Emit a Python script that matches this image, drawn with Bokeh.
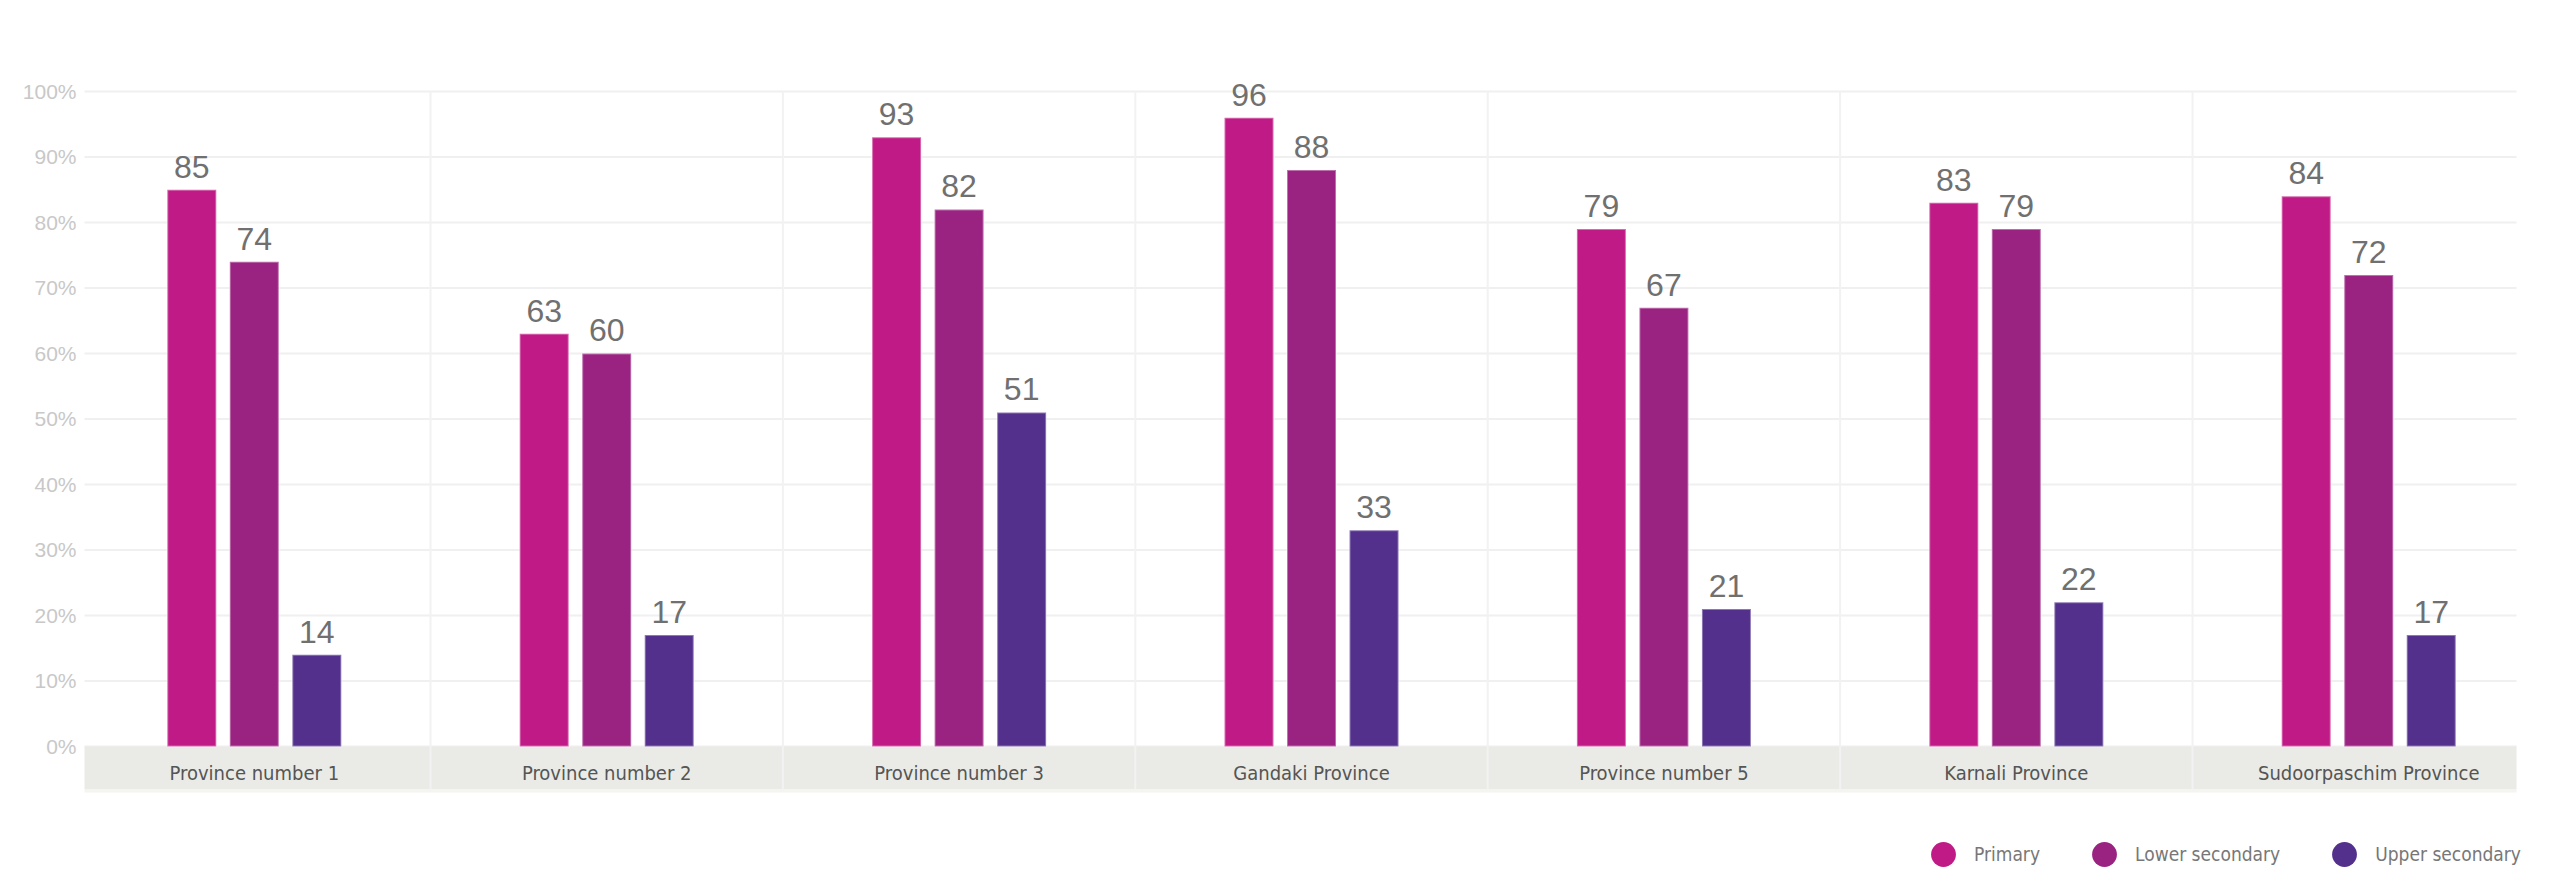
import numpy as np
from bokeh.plotting import figure
from bokeh.models import ColumnDataSource, Range1d, Legend, LegendItem
from bokeh.transform import dodge
from bokeh.core.properties import value
from bokeh.embed import file_html
from bokeh.resources import INLINE

# ---------------- data ----------------
provinces = ["Province number 1", "Province number 2", "Province number 3",
             "Gandaki Province", "Province number 5", "Karnali Province",
             "Sudoorpaschim Province"]
primary = [85, 63, 93, 96, 79, 83, 84]
lower_secondary = [74, 60, 82, 88, 67, 79, 72]
upper_secondary = [14, 17, 51, 33, 21, 22, 17]
series_names = ["Primary", "Lower secondary", "Upper secondary"]
series_colors = ["#c01a86", "#9a2382", "#52308c"]
y_ticks = list(range(0, 101, 10))
y_tick_labels = [f"{t}%" for t in y_ticks]

# ---------------- styling / layout ----------------
NARROW = "Liberation Sans Narrow, DejaVu Sans Condensed, sans-serif"
SANS = "Liberation Sans, Arial, sans-serif"

n = len(provinces)
# full-canvas frame; data extents of the plotting area
X0, X1 = -0.2202, 7.0073
Y0, Y1 = -20.31, 113.89
XL, XR = 0.0182, 6.9194      # plot area left / right
YB = -6.565                  # bottom of category band
OFF = 0.1774
BW = 0.139

src = ColumnDataSource(dict(
    x=[i + 0.5 for i in range(n)],
    province=provinces,
    primary=primary,
    lower=lower_secondary,
    upper=upper_secondary,
    primary_txt=[str(v) for v in primary],
    lower_txt=[str(v) for v in lower_secondary],
    upper_txt=[str(v) for v in upper_secondary],
))

p = figure(width=2547, height=879, x_range=Range1d(X0, X1), y_range=Range1d(Y0, Y1),
           x_axis_location=None, y_axis_location=None, toolbar_location=None,
           output_backend="svg", title=None, min_border=0,
           outline_line_color=None, background_fill_color="white", border_fill_color="white")
p.center = []

# horizontal grid lines
p.segment(x0=XL, x1=XR, y0=y_ticks, y1=y_ticks, line_color="#f0f0f0", line_width=2)

# category band
p.quad(left=XL, right=XR, bottom=YB, top=0, fill_color="#eaebe6", line_color=None)
p.quad(left=XL, right=XR, bottom=YB - 0.45, top=YB, fill_color="#f4f4f0", line_color=None)

# vertical separators between categories
bounds = list(range(1, n))
p.segment(x0=bounds, y0=YB, x1=bounds, y1=max(y_ticks),
          line_color="#f2f2f2", line_width=2)

# bars + value labels
keys = ["primary", "lower", "upper"]
legend_items = []
for key, name, color, dx in zip(keys, series_names, series_colors, [-OFF, 0.0, OFF]):
    p.vbar(x=dodge("x", dx), top=key, width=BW, source=src,
           fill_color=color, line_color="white", line_alpha=0.35, line_width=2)
    p.text(x=dodge("x", dx), y=key, text=key + "_txt", source=src,
           text_align="center", text_baseline="alphabetic", y_offset=-23,
           text_font=value(SANS), text_font_size="32px", text_color="#707070")
    # zero-size markers, only used to draw round legend swatches
    r = p.scatter(x=dodge("x", dx), y=key, source=src, marker="circle", size=0,
                  fill_color=color, line_color=None)
    legend_items.append(LegendItem(label=name, renderers=[r]))

# category labels in band
p.text(x="x", y=0, text="province", source=src, text_align="center",
       text_baseline="alphabetic", y_offset=27,
       text_font=value(NARROW), text_font_size="20px", text_color="#555555")

# y tick labels
tick_src = ColumnDataSource(dict(tick=y_ticks, label=y_tick_labels))
p.text(x=XL, y="tick", text="label", source=tick_src, x_offset=-8,
       text_align="right", text_baseline="alphabetic",
       text_font=value(SANS), text_font_size="21px", text_color="#c8c8c8")

# legend
legend = Legend(items=legend_items, orientation="horizontal", location=(1912, -6),
                glyph_width=62, glyph_height=62, label_standoff=-8, spacing=33,
                padding=0, margin=0, border_line_alpha=0, background_fill_alpha=0,
                label_text_font=NARROW, label_text_font_size="19px",
                label_text_color="#777777", label_text_baseline="middle")
p.add_layout(legend)

open("out.html", "w").write(file_html(p, INLINE))
